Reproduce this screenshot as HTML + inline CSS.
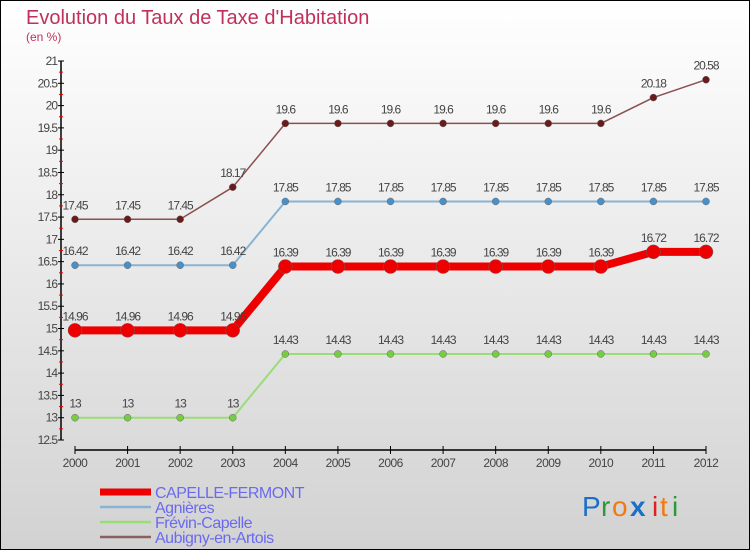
<!DOCTYPE html>
<html><head><meta charset="utf-8"><style>
html,body{margin:0;padding:0}
body{width:750px;height:550px;overflow:hidden;font-family:"Liberation Sans",sans-serif}
svg text{font-family:"Liberation Sans",sans-serif}
</style></head><body>
<svg id="chart" width="750" height="550" xmlns="http://www.w3.org/2000/svg">
<defs><linearGradient id="bg" x1="0" y1="0" x2="0" y2="1"><stop offset="0" stop-color="#ffffff"/><stop offset="1" stop-color="#d2d2d2"/></linearGradient></defs>
<rect x="0.5" y="0.5" width="749" height="549" fill="url(#bg)" stroke="#000"/>
<text x="26" y="24" font-size="20" fill="#c0305a">Evolution du Taux de Taxe d'Habitation</text>
<text x="26" y="41" font-size="12" fill="#c0305a">(en %)</text>
<g id="axes"></g>
<g id="series"></g>
<g id="legend"></g>
<g font-size="28">
<text x="582" y="516" fill="#1a70c8">P</text><text x="601" y="516" fill="#2a9a3a">r</text><text x="612" y="516" fill="#f07a10">o</text><text x="630" y="516" fill="#1a70c8" font-weight="bold">x</text><text x="652" y="516" fill="#e02020">i</text><text x="660" y="516" fill="#f07a10">t</text><text x="672" y="516" fill="#2a9a3a">i</text>
</g>
</svg>
<script>
const years=[2000,2001,2002,2003,2004,2005,2006,2007,2008,2009,2010,2011,2012];
const capelle=[14.96,14.96,14.96,14.96,16.39,16.39,16.39,16.39,16.39,16.39,16.39,16.72,16.72];
const agnieres=[16.42,16.42,16.42,16.42,17.85,17.85,17.85,17.85,17.85,17.85,17.85,17.85,17.85];
const frevin=[13,13,13,13,14.43,14.43,14.43,14.43,14.43,14.43,14.43,14.43,14.43];
const aubigny=[17.45,17.45,17.45,18.17,19.6,19.6,19.6,19.6,19.6,19.6,19.6,20.18,20.58];
const yTicks=[12.5,13,13.5,14,14.5,15,15.5,16,16.5,17,17.5,18,18.5,19,19.5,20,20.5,21];
const seriesNames=["CAPELLE-FERMONT","Agnières","Frévin-Capelle","Aubigny-en-Artois"];
const NS="http://www.w3.org/2000/svg";
const X=i=>75+i*(706-75)/(years.length-1);
const Y=v=>440-(v-12.5)*(440-61)/8.5;
function mk(t,a,p){const e=document.createElementNS(NS,t);for(const k in a)e.setAttribute(k,a[k]);p.appendChild(e);return e;}
const axes=document.getElementById('axes');
let ya=mk('line',{x1:61,y1:Y(21),x2:61,y2:Y(12.5),stroke:'#000','stroke-width':1.5},axes);


yTicks.forEach(v=>{
 mk('line',{x1:58,y1:Y(v),x2:64,y2:Y(v),stroke:'#000'},axes);
 mk('line',{x1:59,y1:Y(v+0.25),x2:63,y2:Y(v+0.25),stroke:'#e00'},axes).setAttribute('visibility',v<21?'visible':'hidden');
 const t=mk('text',{x:57,y:Y(v)+4,'font-size':12,'text-anchor':'end',fill:'#444','letter-spacing':'-1'},axes);t.textContent=String(v);
 
 
});
let xa=mk('line',{x1:X(0),y1:450,x2:X(12),y2:450,stroke:'#000','stroke-width':1.5},axes);


years.forEach((yr,i)=>{
 mk('line',{x1:X(i),y1:446,x2:X(i),y2:454,stroke:'#000'},axes);
 const t=mk('text',{x:X(i),y:467,'font-size':12,'text-anchor':'middle',fill:'#444','letter-spacing':'-0.5'},axes);t.textContent=yr;
 
 
});
const sg=document.getElementById('series');
const defs=[
 {d:frevin,c:'#99dd77',m:'#77cc44',w:2,r:3.5,n:'frevin-capelle'},
 {d:agnieres,c:'#88b4d4',m:'#4a90c8',w:2,r:3.5,n:'agnieres'},
 {d:aubigny,c:'#8a5050',m:'#6a1a1a',w:1.5,r:3.5,n:'aubigny-en-artois'},
 {d:capelle,c:'#ee0000',m:'#ee0000',w:8,r:7,n:'capelle-fermont'}];
defs.forEach(s=>{
 const g=mk('g',{},sg);
 
 
 mk('polyline',{points:s.d.map((v,i)=>X(i)+','+Y(v)).join(' '),fill:'none',stroke:s.c,'stroke-width':s.w,'stroke-linejoin':'round'},g);
 s.d.forEach((v,i)=>{
  const p=mk('circle',{cx:X(i),cy:Y(v),r:s.r,fill:s.m,stroke:'#666','stroke-width':0.5},g);
  
  
  const t=mk('text',{x:X(i),y:Y(v)-10,'font-size':12,'text-anchor':'middle',fill:'#444','letter-spacing':'-1'},g);t.textContent=String(v);
  
  
 });
});
const lg=document.getElementById('legend');
const lc=['#ee0000','#88b4d4','#99dd77','#8a6060'],lw=[7,2.5,2.5,2.5];
seriesNames.forEach((n,i)=>{
 const y=492+i*15;
 const g=mk('g',{},lg);
 
 
 mk('line',{x1:100,y1:y,x2:151,y2:y,stroke:lc[i],'stroke-width':lw[i]},g);
 const t=mk('text',{x:155,y:y+6,'font-size':16,fill:'#6a6af0','letter-spacing':'-0.5'},g);t.textContent=n;
});
</script>
</body></html>
